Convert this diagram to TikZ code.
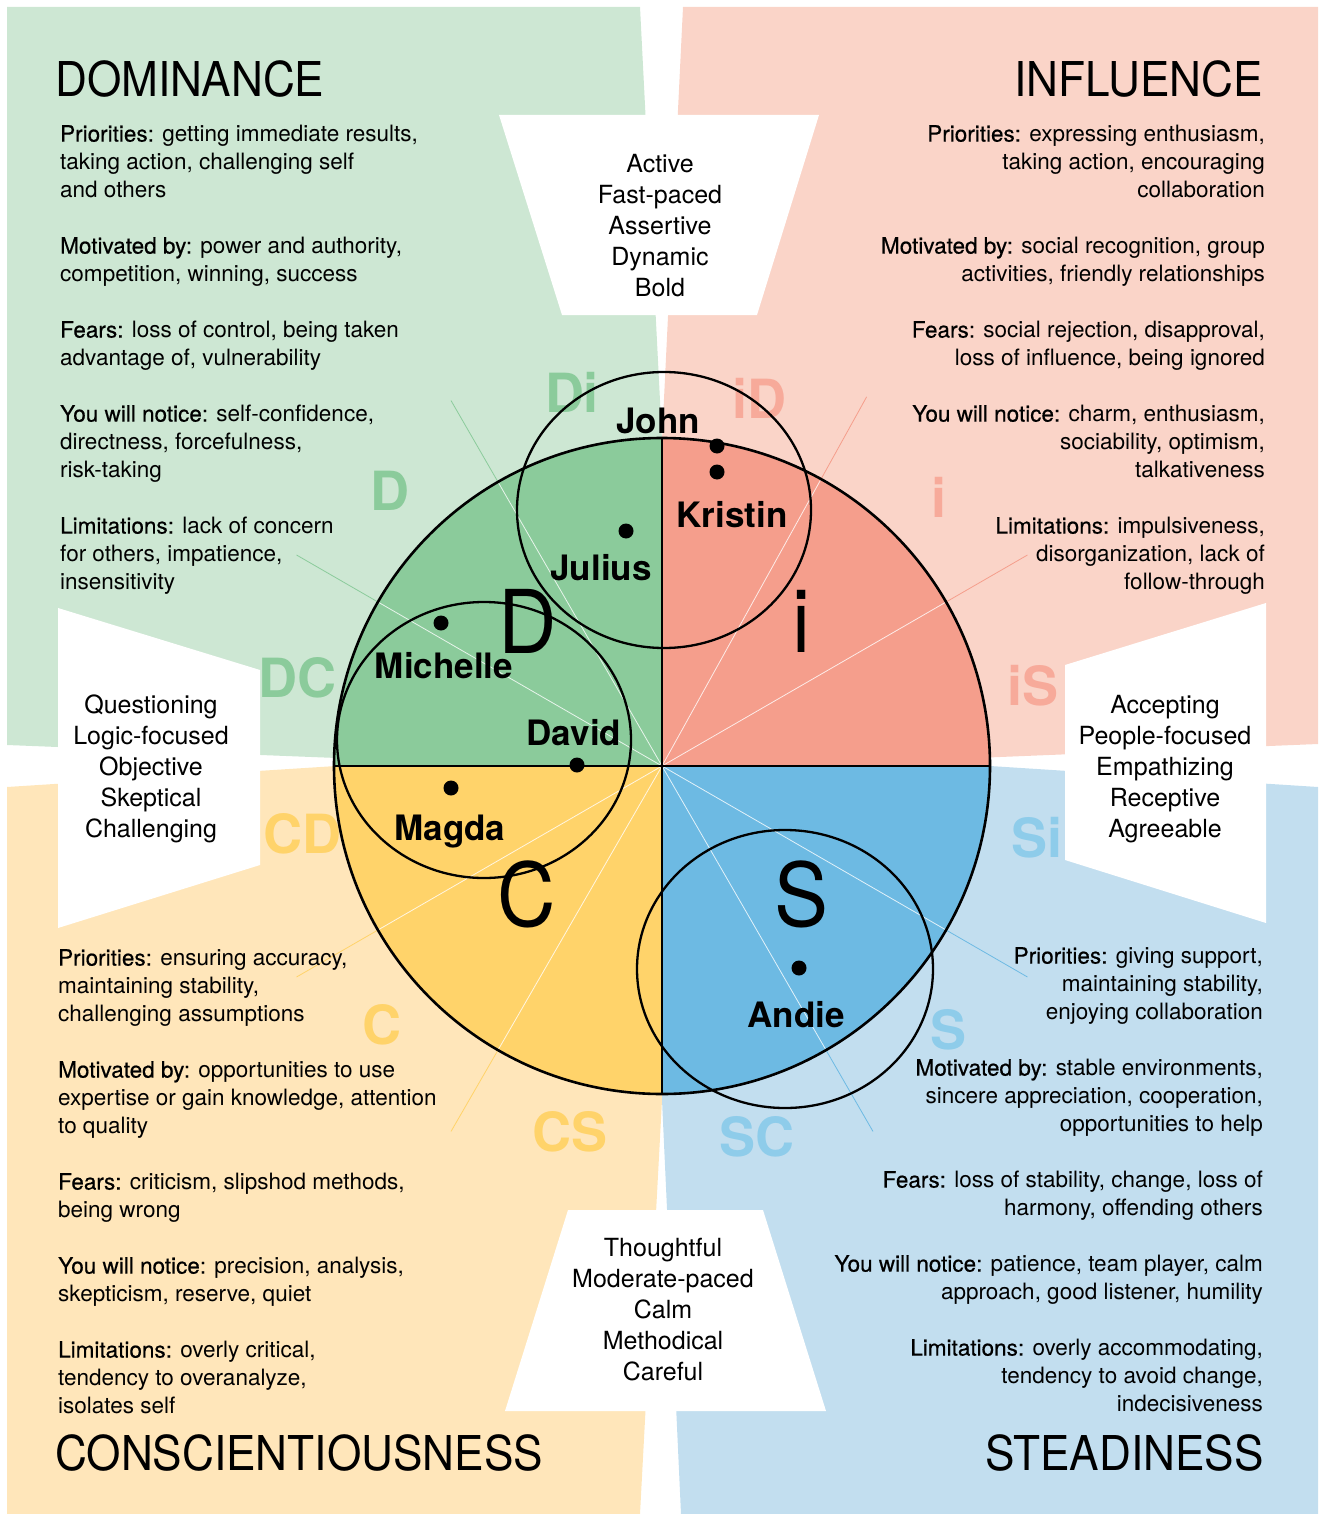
\documentclass[tikz,border=0pt]{standalone}
\usepackage{fontspec}
\setmainfont{TeX Gyre Heros}
\newfontfamily\titlefont{TeX Gyre Heros}[FakeStretch=0.92]
\newfontfamily\medfont{TeX Gyre Heros}[FakeBold=0.5]
\newcommand\lbl[1]{{\medfont #1}}

\definecolor{dlight}{HTML}{CDE7D3}
\definecolor{dmid}{HTML}{8BCB9B}
\definecolor{ilight}{HTML}{FAD4C8}
\definecolor{imid}{HTML}{F59E8C}
\definecolor{ilab}{HTML}{F7AA9A}
\definecolor{clight}{HTML}{FFE6BA}
\definecolor{cmid}{HTML}{FFD36A}
\definecolor{slight}{HTML}{C2DEEF}
\definecolor{smid}{HTML}{6DBAE3}
\definecolor{slab}{HTML}{8ECCEA}

\begin{document}
\begin{tikzpicture}[x=1pt,y=-1pt,
  body/.style={inner sep=0pt,font=\fontsize{22.5}{28}\selectfont},
  title/.style={inner sep=0pt,font=\titlefont\fontsize{48}{48}\selectfont},
  trait/.style={inner sep=0pt,align=center,font=\fontsize{25}{31}\selectfont},
  seclab/.style={inner sep=0pt,anchor=base,font=\bfseries\fontsize{54}{54}\selectfont},
  bigletter/.style={inner sep=0pt,anchor=base,font=\titlefont\fontsize{88}{88}\selectfont},
  person/.style={inner sep=0pt,anchor=base,font=\bfseries\fontsize{35}{35}\selectfont},
  outline/.style={line width=2.6pt},
  ring/.style={line width=2.3pt}]
\useasboundingbox (0,0) rectangle (1318,1514);
\coordinate (ctr) at (662,766);

% quadrant backgrounds
\fill[dlight] (7,7) -- (640,7) -- (662,440) -- (662,766) -- (540,766) -- (7,745) -- cycle;
\fill[ilight] (683,7) -- (1318,7) -- (1318,744) -- (780,766) -- (662,766) -- (662,440) -- cycle;
\fill[clight] (7,787) -- (336,766) -- (662,766) -- (662,1100) -- (640,1514) -- (7,1514) -- cycle;
\fill[slight] (1318,787) -- (990,766) -- (662,766) -- (662,1100) -- (681,1514) -- (1318,1514) -- cycle;

% white trapezoids
\fill[white] (499,115) -- (819,115) -- (757,315) -- (562,315) -- cycle;
\fill[white] (568,1210) -- (763,1210) -- (826,1411) -- (505,1411) -- cycle;
\fill[white] (58,608) -- (260,670) -- (260,865) -- (58,928) -- cycle;
\fill[white] (1266,603) -- (1065,665) -- (1065,860) -- (1266,923) -- cycle;

% spokes
\foreach \a/\c in {30/imid,61/imid,120/dmid,150/dmid,210/cmid,240/cmid,300/smid,330/smid}
  \draw[\c, line width=0.8pt] (ctr) -- ++(-\a:422);

% disc
\foreach \s/\c in {0/imid,90/dmid,180/cmid,270/smid}
  \fill[\c] (ctr) -- ++(-\s:328) arc[start angle=-\s, end angle=-\s-90, radius=328] -- cycle;
\foreach \a in {30,61,120,150,210,240,300,330}
  \draw[white, line width=0.8pt, opacity=0.8] (ctr) -- ++(-\a:328);

% sector labels
\foreach \n/\t/\x/\y/\c in {di/Di/572/412/dmid, id/iD/759/418/ilab, d/D/390/510/dmid, i/i/939/517/ilab,
    dc/DC/297/697/dmid, is/iS/1033/705/ilab, cd/CD/302/853/cmid, si/Si/1037/857/slab,
    c/C/382/1044/cmid, s/S/948/1049/slab, cs/CS/570/1151/cmid, sc/SC/757/1156/slab}
  \node[seclab, text=\c] (lab-\n) at (\x,\y) {\t};

\draw[outline] (ctr) circle[radius=328];
\draw[outline] ([xshift=-328pt]ctr) -- ([xshift=328pt]ctr);
\draw[outline] ([yshift=328pt]ctr) -- ([yshift=-328pt]ctr);

% groups
\draw[ring] (664,510) ellipse[x radius=147, y radius=138];
\draw[ring] (484,740) ellipse[x radius=147, y radius=138];
\draw[ring] (785,969) ellipse[x radius=148, y radius=139];

\node[bigletter] (big-d) at (528,653) {D};
\node[bigletter] (big-i) at (801,652) {i};
\node[bigletter] (big-c) at (527,926) {C};
\node[bigletter] (big-s) at (801,926) {S};

\foreach \n/\x/\y/\dx/\dy in {John/658/433/717/446, Kristin/732/527/717/472, Julius/601/580/626/531,
    Michelle/444/678/441/623, David/574/745/577/765, Magda/450/840/451/788, Andie/796/1027/799/968} {
  \fill (\dx,\dy) circle[radius=7.5];
  \node[person] (p-\n) at (\x,\y) {\n};
}

% titles
\node[title, anchor=base west] (dom-title) at (55,97) {DOMINANCE};
\node[title, anchor=base east] (inf-title) at (1263,97) {INFLUENCE};
\node[title, anchor=base west] (con-title) at (55,1470) {CONSCIENTIOUSNESS};
\node[title, anchor=base east] (ste-title) at (1264,1470) {STEADINESS};

% traits
\node[trait] (trait-top) at (660,226) {Active\\Fast-paced\\Assertive\\Dynamic\\Bold};
\node[trait] (trait-left) at (151,769) {Questioning\\Logic-focused\\Objective\\Skeptical\\Challenging};
\node[trait] (trait-right) at (1165,769) {Accepting\\People-focused\\Empathizing\\Receptive\\Agreeable};
\node[trait] (trait-bot) at (663,1310) {Thoughtful\\Moderate-paced\\Calm\\Methodical\\Careful};

% descriptions
\node[body, align=left, anchor=north west] (dom-text) at (60,125) {%
  \lbl{Priorities:} getting immediate results,\\ taking action, challenging self\\ and others\\[28pt]
  \lbl{Motivated by:} power and authority,\\ competition, winning, success\\[28pt]
  \lbl{Fears:} loss of control, being taken\\ advantage of, vulnerability\\[28pt]
  \lbl{You will notice:} self-confidence,\\ directness, forcefulness,\\ risk-taking\\[28pt]
  \lbl{Limitations:} lack of concern\\ for others, impatience,\\ insensitivity};
\node[body, align=right, anchor=north east] (inf-text) at (1265,125) {%
  \lbl{Priorities:} expressing enthusiasm,\\ taking action, encouraging\\ collaboration\\[28pt]
  \lbl{Motivated by:} social recognition, group\\ activities, friendly relationships\\[28pt]
  \lbl{Fears:} social rejection, disapproval,\\ loss of influence, being ignored\\[28pt]
  \lbl{You will notice:} charm, enthusiasm,\\ sociability, optimism,\\ talkativeness\\[28pt]
  \lbl{Limitations:} impulsiveness,\\ disorganization, lack of\\ follow-through};
\node[body, align=left, anchor=north west] (con-text) at (58,949) {%
  \lbl{Priorities:} ensuring accuracy,\\ maintaining stability,\\ challenging assumptions\\[28pt]
  \lbl{Motivated by:} opportunities to use\\ expertise or gain knowledge, attention\\ to quality\\[28pt]
  \lbl{Fears:} criticism, slipshod methods,\\ being wrong\\[28pt]
  \lbl{You will notice:} precision, analysis,\\ skepticism, reserve, quiet\\[28pt]
  \lbl{Limitations:} overly critical,\\ tendency to overanalyze,\\ isolates self};
\node[body, align=right, anchor=north east] (ste-text) at (1263,947) {%
  \lbl{Priorities:} giving support,\\ maintaining stability,\\ enjoying collaboration\\[28pt]
  \lbl{Motivated by:} stable environments,\\ sincere appreciation, cooperation,\\ opportunities to help\\[28pt]
  \lbl{Fears:} loss of stability, change, loss of\\ harmony, offending others\\[28pt]
  \lbl{You will notice:} patience, team player, calm\\ approach, good listener, humility\\[28pt]
  \lbl{Limitations:} overly accommodating,\\ tendency to avoid change,\\ indecisiveness};
\end{tikzpicture}
\end{document}
